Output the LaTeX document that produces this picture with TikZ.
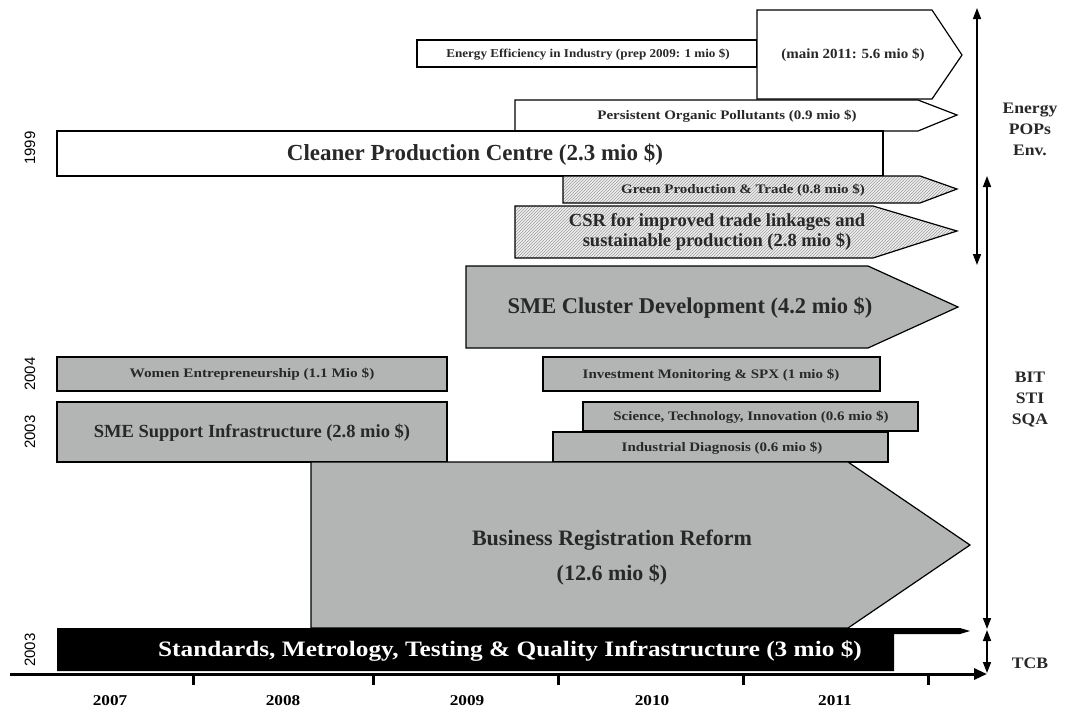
\documentclass[tikz,border=0pt]{standalone}
\usepackage{fontspec}
\setmainfont{Liberation Serif}
\newfontfamily\yearsans{Liberation Sans}
\usetikzlibrary{arrows.meta,patterns}

\definecolor{barfill}{RGB}{179,181,181}
\definecolor{hatchbg}{RGB}{238,238,238}
\definecolor{hatchline}{RGB}{160,160,160}
\definecolor{textgrey}{RGB}{40,40,40}

\newcommand{\fs}[1]{\fontsize{#1}{#1}\selectfont}

\tikzset{
  bar/.style={draw=black, line width=1.2pt, line join=miter},
  whitebar/.style={bar, fill=white},
  greybar/.style={bar, fill=barfill},
  hatchbar/.style={bar, preaction={fill=hatchbg}, pattern=north east lines, pattern color=hatchline},
  lbl/.style={font=\bfseries, text=textgrey, inner sep=0pt, align=center},
  small/.style={lbl, font=\bfseries\fs{13}, xscale=1.15},
  startyear/.style={font=\yearsans\fs{15}, rotate=90, inner sep=0pt},
  span/.style={line width=1.6pt, {Triangle[length=11pt,width=8pt]}-{Triangle[length=11pt,width=8pt]}},
}

\begin{document}
\begin{tikzpicture}[x=1pt, y=-1pt]
  \useasboundingbox (0,0) rectangle (1073,718);

  % environment projects
  \draw[whitebar] (417,40) rectangle (757,67);
  \node[small, font=\bfseries\fs{12}, xscale=0.95] (eeprep) at (588,54) {Energy Efficiency in Industry (prep 2009: 1 mio \$)};
  \draw[whitebar] (757,10) -- (932,10) -- (962,55) -- (932,99) -- (757,99) -- cycle;
  \node[small, font=\bfseries\fs{14}, xscale=0.93] (eemain) at (853,55) {(main 2011: 5.6 mio \$)};
  \draw[whitebar] (515,100) -- (918,100) -- (957,115) -- (918,131) -- (515,131) -- cycle;
  \node[small] (pop) at (727,116) {Persistent Organic Pollutants (0.9 mio \$)};
  \draw[whitebar] (57,131) rectangle (883,176);
  \node[lbl, font=\bfseries\fs{23}] (cpc) at (475,155) {Cleaner Production Centre (2.3 mio \$)};
  \draw[hatchbar] (563,176) -- (920,176) -- (957,189) -- (920,203) -- (563,203) -- cycle;
  \node[small] (gpt) at (743,190) {Green Production \& Trade (0.8 mio \$)};
  \draw[hatchbar] (515,206) -- (873,206) -- (957,231) -- (873,258) -- (515,258) -- cycle;
  \node[lbl, font=\bfseries\fs{18.5}] (csr) at (717,232) {CSR for improved trade linkages and\\[2pt] sustainable production (2.8 mio \$)};

  % business and trade projects
  \draw[greybar] (466,266) -- (868,266) -- (958,307) -- (868,348) -- (466,348) -- cycle;
  \node[lbl, font=\bfseries\fs{22.5}] (cluster) at (690,308) {SME Cluster Development (4.2 mio \$)};
  \draw[greybar] (57,357) rectangle (447,391);
  \node[small, xscale=1.02] (women) at (252,374) {Women Entrepreneurship (1.1 Mio \$)};
  \draw[greybar] (543,357) rectangle (880,391);
  \node[small] (invest) at (711,375) {Investment Monitoring \& SPX (1 mio \$)};
  \draw[greybar] (57,402) rectangle (447,462);
  \node[lbl, font=\bfseries\fs{18.5}] (support) at (252,433) {SME Support Infrastructure (2.8 mio \$)};
  \draw[greybar] (583,402) rectangle (918,431);
  \node[small] (sti) at (751,417) {Science, Technology, Innovation (0.6 mio \$)};
  \draw[greybar] (553,432) rectangle (888,462);
  \node[small] (diag) at (722,448) {Industrial Diagnosis (0.6 mio \$)};
  \draw[greybar] (311,462) -- (848,462) -- (970,545) -- (848,628) -- (311,628) -- cycle;
  \node[lbl, font=\bfseries\fs{22}] (brr) at (612,558) {Business Registration Reform\\[13pt] (12.6 mio \$)};

  % trade capacity building
  \fill[black] (57,628) -- (960,628) -- (970,631) -- (960,634) -- (894,634) -- (894,671) -- (57,671) -- cycle;
  \node[lbl, text=white, font=\bfseries\fs{22}, xscale=1.15] (smtq) at (510,651) {Standards, Metrology, Testing \& Quality Infrastructure (3 mio \$)};

  % start years
  \node[startyear] (y1999) at (30,148) {1999};
  \node[startyear] (y2004) at (30,374) {2004};
  \node[startyear] (y2003a) at (30,432) {2003};
  \node[startyear] (y2003b) at (30,650) {2003};

  % time axis
  \coordinate (axstart) at (10,674);
  \coordinate (axend) at (987,674);
  \draw[line width=3pt, -{Triangle[length=13pt,width=11pt]}] (axstart) -- (axend);
  \foreach \tx in {193,373,558,743,928}
    \draw[line width=3pt] (\tx,674) -- (\tx,685);
  \foreach \yr/\yx in {2007/110,2008/283,2009/467,2010/652,2011/835}
    \node[lbl, text=black, font=\bfseries\fs{15}, xscale=1.15] (yr\yr) at (\yx,701) {\yr};

  % thematic spans
  \coordinate (envtop) at (977,8);
  \coordinate (envbot) at (977,265);
  \coordinate (bittop) at (987,176);
  \coordinate (bittbot) at (987,629);
  \coordinate (tcbtop) at (987,630);
  \coordinate (tcbbot) at (987,673);
  \draw[span] (envtop) -- (envbot);
  \draw[span] (bittop) -- (bittbot);
  \draw[span] (tcbtop) -- (tcbbot);
  \node[lbl, font=\bfseries\fs{16}, xscale=1.1] (envlbl) at (1030,129) {Energy\\[5pt] POPs\\[5pt] Env.};
  \node[lbl, font=\bfseries\fs{16}, xscale=1.1] (bitlbl) at (1030,400) {BIT\\[5pt] STI\\[5pt] SQA};
  \node[lbl, font=\bfseries\fs{16}, xscale=1.1] (tcblbl) at (1030,663) {TCB};
\end{tikzpicture}
\end{document}
